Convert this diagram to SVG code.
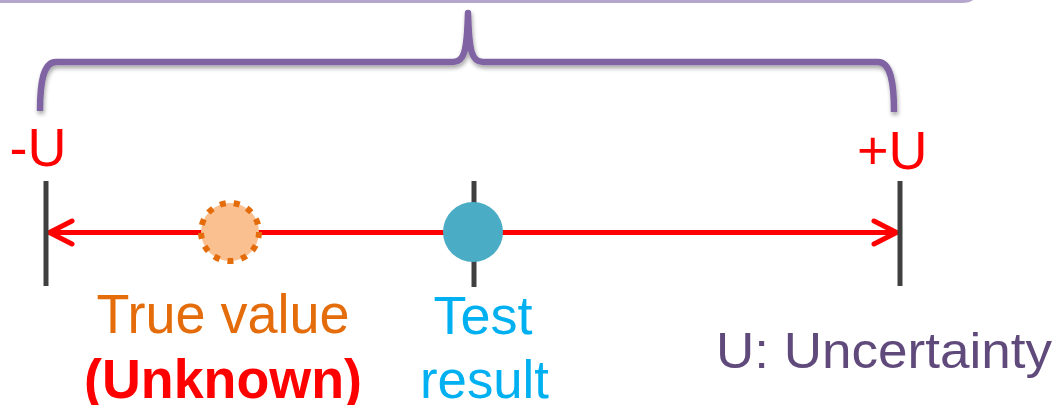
<svg xmlns="http://www.w3.org/2000/svg" width="1056" height="405" viewBox="0 0 1056 405">
  <style>
    .lbl { font-family: "Liberation Sans", Arial, sans-serif; }
    .tick { stroke: #404040; stroke-width: 5; fill: none; }
    .axis { stroke: #FF0000; stroke-width: 5; fill: none; stroke-linecap: round; stroke-linejoin: round; }
  </style>
  <defs>
    <filter id="softShadow" x="-5%" y="-20%" width="110%" height="160%">
      <feGaussianBlur in="SourceAlpha" stdDeviation="2"/>
      <feOffset dx="1" dy="3" result="blur"/>
      <feComponentTransfer><feFuncA type="linear" slope="0.35"/></feComponentTransfer>
      <feMerge><feMergeNode/><feMergeNode in="SourceGraphic"/></feMerge>
    </filter>
  </defs>
  <rect width="1056" height="405" fill="#FFFFFF"/>

  <!-- panel edge above -->
  <g id="panel">
    <path d="M -10 1.5 L 962 1.5 Q 970 1.5 973 -2" fill="none" stroke="#B4A6CC" stroke-width="3"/>
  </g>

  <!-- curly brace spanning -U .. +U -->
  <g id="brace" filter="url(#softShadow)">
    <path d="M 40 111 C 40 84 43 62 56 62 L 453 62 C 464 62 467 52 468 13 C 469 52 472 62 483 62 L 878 62 C 891 62 894 84 894 112"
          fill="none" stroke="#8064A2" stroke-width="6.5" stroke-linejoin="round"/>
  </g>

  <g id="connectors">
    <line class="axis" x1="50" y1="232.5" x2="896" y2="232.5"/>
    <polyline class="axis" points="72,221 49.5,232.5 72,244"/>
    <polyline class="axis" points="874,221 896.5,232.5 874,244"/>
  </g>

  <g id="minus-u">
    <line class="tick" x1="46" y1="181" x2="46" y2="286"/>
    <text class="lbl" x="9.6" y="166" font-size="54" fill="#FF0000">-U</text>
  </g>

  <g id="plus-u">
    <line class="tick" x1="900" y1="181" x2="900" y2="286"/>
    <text class="lbl" x="857" y="169" font-size="54" fill="#FF0000">+U</text>
  </g>

  <g id="true-value">
    <circle cx="230" cy="232" r="29" fill="#FAC090" stroke="#E46C0A" stroke-width="6" stroke-dasharray="6 8.02"/>
    <text class="lbl" x="223" y="333" font-size="55" fill="#E46C0A" text-anchor="middle" textLength="253" lengthAdjust="spacingAndGlyphs">True value</text>
    <text class="lbl" x="223" y="398" font-size="55" font-weight="bold" fill="#FF0000" text-anchor="middle" textLength="278" lengthAdjust="spacingAndGlyphs">(Unknown)</text>
  </g>

  <g id="test-result">
    <line class="tick" x1="474" y1="181" x2="474" y2="287"/>
    <circle cx="473" cy="232" r="30" fill="#4BACC6"/>
    <text class="lbl" x="483" y="334" font-size="54" fill="#00B0F0" text-anchor="middle" textLength="99" lengthAdjust="spacingAndGlyphs">Test</text>
    <text class="lbl" x="484.5" y="398" font-size="54" fill="#00B0F0" text-anchor="middle" textLength="129" lengthAdjust="spacingAndGlyphs">result</text>
  </g>

  <g id="legend">
    <text class="lbl" x="716" y="368" font-size="50" fill="#604A7B" textLength="336" lengthAdjust="spacingAndGlyphs">U: Uncertainty</text>
  </g>
</svg>
